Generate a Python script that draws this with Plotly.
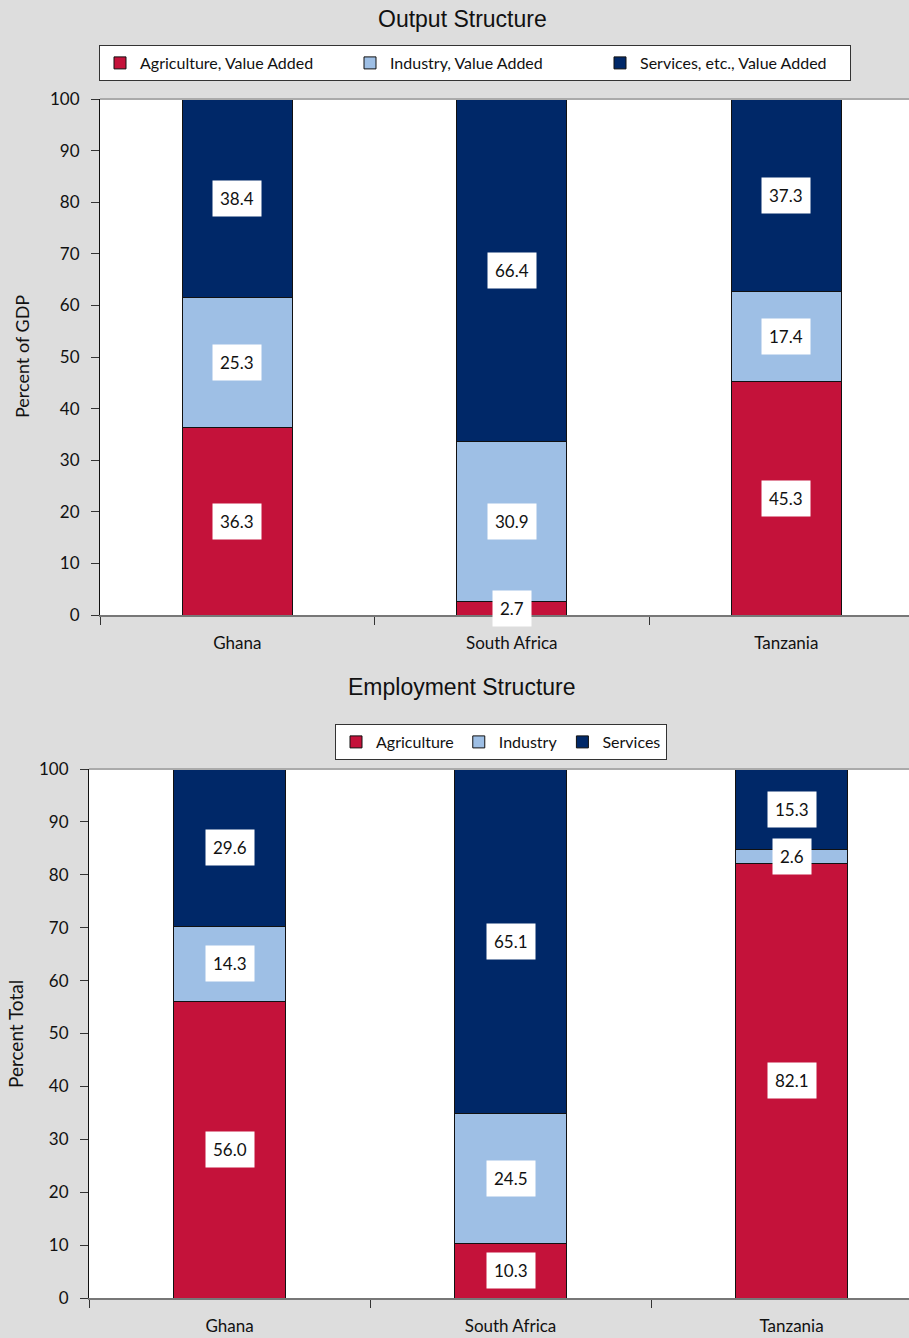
import plotly.graph_objects as go

countries = ["Ghana", "South Africa", "Tanzania"]

out_agri = [36.3, 2.7, 45.3]
out_ind = [25.3, 30.9, 17.4]
out_serv = [38.4, 66.4, 37.3]
out_names = ["Agriculture, Value Added", "Industry, Value Added", "Services, etc., Value Added"]

emp_agri = [56.0, 10.3, 82.1]
emp_ind = [14.3, 24.5, 2.6]
emp_serv = [29.6, 65.1, 15.3]
emp_names = ["Agriculture", "Industry", "Services"]

y_ticks = [0, 10, 20, 30, 40, 50, 60, 70, 80, 90, 100]

colors = ["#C4123A", "#9EBFE5", "#002868"]
BG = "#DDDDDD"
FAM = "Lato, 'Open Sans', sans-serif"
XTICKFONT = dict(family=FAM, size=17, color="#111111")
YTICKFONT = dict(family=FAM, size=17, color="#111111")
TITLEFONT = dict(family="'Liberation Sans', Arial, sans-serif", size=23, color="#111111")

W, H = 909, 1338

fig = go.Figure()

def add_chart(series, names, xa, ya, legend):
    for vals, name, col in zip(series, names, colors):
        fig.add_trace(go.Bar(
            x=countries, y=vals, name=name, xaxis=xa, yaxis=ya, legend=legend,
            width=0.4, marker=dict(color=col, line=dict(color="#111111", width=1)),
            hoverinfo="skip",
        ))
    base = [0.0] * len(countries)
    for vals in series:
        for i, v in enumerate(vals):
            fig.add_annotation(
                x=countries[i], y=base[i] + v / 2, xref=xa, yref=ya,
                text=f"{v:.1f}", showarrow=False, bgcolor="white", borderpad=7,
                font=dict(family=FAM, size=17, color="#111111"),
            )
            base[i] += v

add_chart([out_agri, out_ind, out_serv], out_names, "x", "y", "legend")
add_chart([emp_agri, emp_ind, emp_serv], emp_names, "x2", "y2", "legend2")

def px_y(p):
    return 1 - p / H

def px_x(p):
    return p / W

common_x = dict(
    type="category", showline=True, linecolor="#777777", linewidth=2, mirror=False,
    ticks="outside", tickson="boundaries", ticklen=8, tickcolor="#333333",
    tickfont=XTICKFONT, showgrid=False, fixedrange=True, ticklabelstandoff=12,
    automargin=False,
)
common_y = dict(
    range=[0, 100], tickvals=y_ticks, showline=True, linecolor="#111111", linewidth=1,
    ticks="outside", ticklen=8, tickcolor="#333333", tickfont=YTICKFONT,
    showgrid=False, zeroline=False, fixedrange=True, ticklabelstandoff=8,
    automargin=False,
)

LEGFONT = dict(family=FAM, size=16, color="#111111")

fig.update_layout(
    template="none",
    width=W, height=H, margin=dict(l=0, r=0, t=0, b=0, pad=0), autosize=False,
    paper_bgcolor=BG, plot_bgcolor="white", barmode="stack", bargap=0.6,
    xaxis=dict(domain=[px_x(100), 1], range=[-0.5, 2.447], anchor="y", **common_x),
    yaxis=dict(domain=[px_y(615), px_y(99)], anchor="x", **common_y),
    xaxis2=dict(domain=[px_x(89), 1], range=[-0.5, 2.418], anchor="y2", **common_x),
    yaxis2=dict(domain=[px_y(1298), px_y(769)], anchor="x2", **common_y),
    legend=dict(
        orientation="h", x=px_x(99), xanchor="left", y=px_y(45), yanchor="top",
        bgcolor="white", bordercolor="#333333", borderwidth=1,
        font=LEGFONT, itemwidth=30, entrywidth=205, traceorder="normal",
    ),
    legend2=dict(
        orientation="h", x=px_x(501), xanchor="center", y=px_y(724), yanchor="top",
        bgcolor="white", bordercolor="#333333", borderwidth=1,
        font=LEGFONT, itemwidth=30, traceorder="normal",
    ),
    showlegend=True,
)

for top_px, x0 in [(99, px_x(100)), (769, px_x(89))]:
    fig.add_shape(type="line", xref="paper", yref="paper", x0=x0, x1=1,
                  y0=px_y(top_px), y1=px_y(top_px), line=dict(color="#AAAAAA", width=2))

fig.add_annotation(text="Output Structure", xref="paper", yref="paper", x=px_x(462), y=px_y(19),
                   showarrow=False, font=TITLEFONT, xanchor="center", yanchor="middle")
fig.add_annotation(text="Employment Structure", xref="paper", yref="paper", x=px_x(462), y=px_y(687),
                   showarrow=False, font=TITLEFONT, xanchor="center", yanchor="middle")
fig.add_annotation(text="Percent of GDP", xref="paper", yref="paper", x=px_x(22), y=px_y(357),
                   showarrow=False, textangle=-90, font=dict(family=FAM, size=18, color="#111111"),
                   xanchor="center", yanchor="middle")
fig.add_annotation(text="Percent Total", xref="paper", yref="paper", x=px_x(15), y=px_y(1034),
                   showarrow=False, textangle=-90, font=dict(family=FAM, size=19, color="#111111"),
                   xanchor="center", yanchor="middle")

fig.write_html("out.html")
